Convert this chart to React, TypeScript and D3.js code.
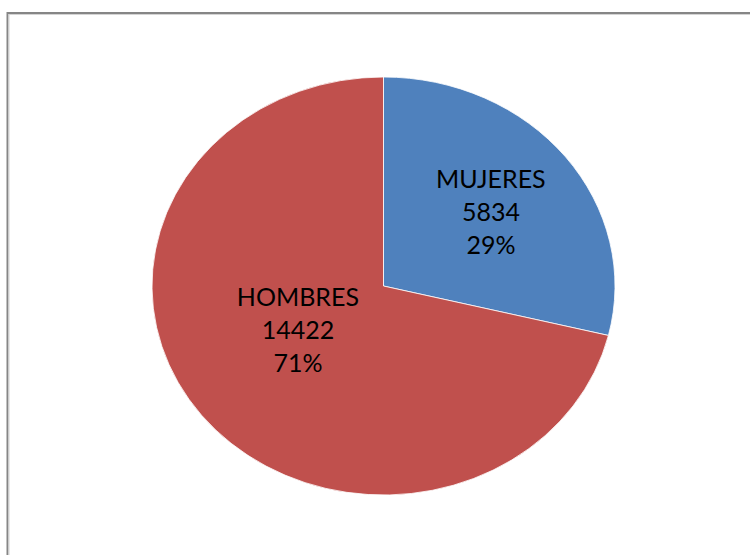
import React from "react";
import * as d3 from "d3";

const categories = ["MUJERES", "HOMBRES"];
const values = [5834, 14422];
const percents = ["29%", "71%"];
const colors = ["#4F81BD", "#C0504D"];
// how far out each label block sits, as a share of the x and y radius
const labelRx = [0.59, 0.47];
const labelRy = [0.57, 0.34];

export default function App() {
  const width = 750;
  const height = 555;
  const cx = 383.5;
  const cy = 286;
  const rx = 231.5;
  const ry = 209;
  const k = ry / rx;

  const pie = d3
    .pie<number>()
    .sort(null)
    .value((d) => d);
  const arcs = pie(values);
  const arc = d3.arc<d3.PieArcDatum<number>>().innerRadius(0).outerRadius(rx);

  return (
    <svg
      width={width}
      height={height}
      style={{ position: "absolute", left: 0, top: 0 }}
    >
      <rect x={0} y={0} width={width} height={height} fill="#fff" />
      {/* chart frame, runs off the right and bottom edges */}
      <rect x={7.5} y={13} width={800} height={600} fill="none" stroke="#868686" strokeWidth={2} />
      <rect x={9} y={14.5} width={800} height={600} fill="none" stroke="#d4d4d4" strokeWidth={1} />

      <g transform={`translate(${cx},${cy}) scale(1,${k})`}>
        {arcs.map((a, i) => (
          <path
            key={categories[i]}
            d={arc(a) ?? ""}
            fill={colors[i]}
            stroke="#fff"
            strokeWidth={0.8}
            vectorEffect="non-scaling-stroke"
          />
        ))}
      </g>

      {arcs.map((a, i) => {
        const mid = (a.startAngle + a.endAngle) / 2;
        const x = cx + Math.sin(mid) * rx * labelRx[i];
        const y = cy - Math.cos(mid) * ry * labelRy[i];
        const lines = [categories[i], String(values[i]), percents[i]];
        return (
          <text
            key={categories[i]}
            x={x}
            y={y}
            textAnchor="middle"
            fontFamily="Lato, 'Open Sans', sans-serif"
            fontSize={25}
            fill="#000"
          >
            {lines.map((t, j) => (
              <tspan key={j} x={x} y={y + (j - 1) * 33 + 9}>
                {t}
              </tspan>
            ))}
          </text>
        );
      })}
    </svg>
  );
}
